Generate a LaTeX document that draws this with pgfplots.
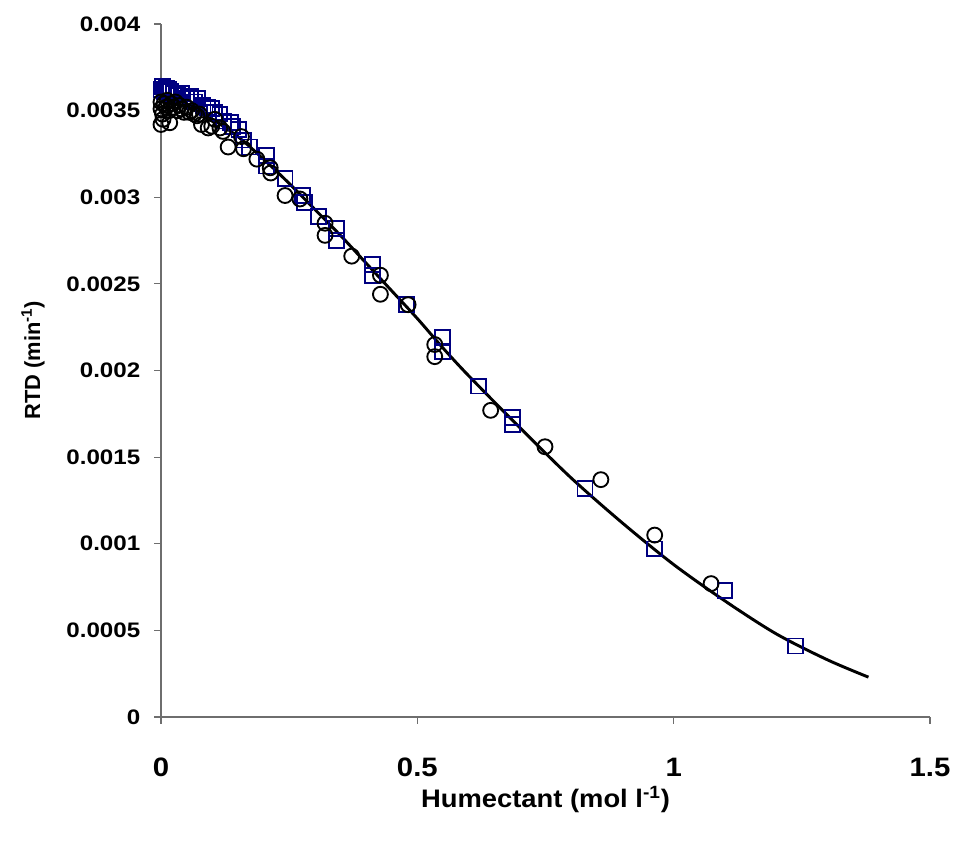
\documentclass[border=0pt]{standalone}
\usepackage{fontspec}
\setmainfont{Liberation Sans}
\newfontfamily\xtickfont[FakeStretch=1.1]{Liberation Sans}
\newfontfamily\ytickfont[FakeStretch=1.15]{Liberation Sans}
\newfontfamily\xlabfont[FakeStretch=1.08]{Liberation Sans}
\usepackage{pgfplots}
\pgfplotsset{compat=1.18}
\definecolor{axgray}{RGB}{110,110,110}
\definecolor{sqblue}{RGB}{0,0,128}

\begin{document}
\begin{tikzpicture}
\begin{axis}[
    scale only axis,
    width=576.75pt, height=519.75pt,
    at={(0,0)}, anchor=south west,
    xmin=0, xmax=1.5, ymin=0, ymax=0.004,
    axis x line*=bottom, axis y line*=left,
    axis line style={axgray, line width=0.9pt, -},
    xtick={0,0.5,1,1.5},
    ytick={0,0.0005,0.001,0.0015,0.002,0.0025,0.003,0.0035,0.004},
    tick align=outside, major tick length=5pt,
    tick style={axgray, line width=0.9pt},
    scaled y ticks=false, scaled x ticks=false,
    /pgf/number format/assume math mode=true,
    xticklabel style={font=\xtickfont\bfseries\fontsize{20}{22}\selectfont,
        /pgf/number format/fixed, anchor=center, yshift=-33pt},
    yticklabel style={font=\ytickfont\bfseries\fontsize{15.75}{18}\selectfont,
        /pgf/number format/fixed, /pgf/number format/precision=4,
        anchor=east, xshift=-7pt},
    xlabel={Humectant (mol l\textsuperscript{-1})},
    ylabel={RTD (min\textsuperscript{-1})},
    xlabel style={font=\xlabfont\bfseries\fontsize{19}{21}\selectfont,
        at={(rel axis cs:0.5,0)}, anchor=center, yshift=-62pt},
    ylabel style={font=\bfseries\fontsize{16.4}{18}\selectfont,
        at={(rel axis cs:0,0.515)}, anchor=center, yshift=96pt},
    clip=false,
]
% squares
\addplot[only marks, mark=square, mark size=5.6pt, sqblue, line width=1.4pt]
coordinates {
(0.000,0.00362) (0.003,0.00364) (0.006,0.00361) (0.010,0.00363) (0.015,0.00362)
(0.018,0.00361) (0.025,0.00360) (0.033,0.00359) (0.040,0.00360) (0.050,0.00357)
(0.057,0.00358) (0.066,0.00355) (0.072,0.00357) (0.082,0.00353) (0.090,0.00352)
(0.099,0.00351) (0.105,0.00349) (0.115,0.00348) (0.122,0.00344) (0.135,0.00343)
(0.140,0.00341) (0.152,0.00339) (0.161,0.00333) (0.172,0.00329) (0.206,0.00324)
(0.206,0.00318) (0.242,0.00311) (0.276,0.00301) (0.280,0.00297) (0.308,0.00289)
(0.343,0.00282) (0.343,0.00275) (0.413,0.00261) (0.413,0.00255) (0.479,0.00238)
(0.549,0.00219) (0.549,0.00211) (0.620,0.00191) (0.686,0.00173) (0.686,0.00169)
(0.827,0.00132) (0.963,0.00097) (1.100,0.00073) (1.237,0.00041)
};
% circles
\addplot[only marks, mark=o, mark size=5.6pt, black, line width=1.4pt]
coordinates {
(0.000,0.00355) (0.000,0.00351) (0.003,0.00348) (0.006,0.00354) (0.010,0.00352)
(0.012,0.00356) (0.016,0.00350) (0.020,0.00354) (0.024,0.00352) (0.028,0.00355)
(0.032,0.00350) (0.036,0.00353) (0.040,0.00351) (0.045,0.00349) (0.050,0.00352)
(0.055,0.00349) (0.060,0.00350) (0.065,0.00348) (0.070,0.00347) (0.075,0.00348)
(0.000,0.00342) (0.004,0.00345) (0.017,0.00343)
(0.079,0.00342) (0.092,0.00340) (0.099,0.00341) (0.105,0.00345) (0.115,0.00340)
(0.121,0.00338) (0.131,0.00329) (0.157,0.00335) (0.161,0.00328) (0.187,0.00322)
(0.213,0.00317) (0.214,0.00314) (0.242,0.00301) (0.271,0.00299) (0.320,0.00285)
(0.320,0.00278) (0.372,0.00266) (0.428,0.00255) (0.428,0.00244) (0.482,0.00238)
(0.534,0.00215) (0.534,0.00208) (0.643,0.00177) (0.749,0.00156) (0.858,0.00137)
(0.963,0.00105) (1.073,0.00077)
};
% fitted curve
\addplot[black, line width=2.2pt, smooth, no marks]
coordinates {
(0.00,0.00355) (0.05,0.00352) (0.10,0.00345) (0.15,0.00335) (0.20,0.00322)
(0.25,0.00308) (0.30,0.00293) (0.35,0.00278) (0.40,0.00262) (0.45,0.00246)
(0.50,0.00230) (0.55,0.00213) (0.60,0.00197) (0.70,0.00167) (0.80,0.00138)
(0.90,0.00112) (1.00,0.00088) (1.10,0.00067) (1.20,0.00048) (1.30,0.00033)
(1.38,0.00023)
};
\end{axis}
\pgfresetboundingbox
\path[use as bounding box] (-120.75pt,-95.25pt) rectangle (597.75pt,537.75pt);
\end{tikzpicture}
\end{document}
